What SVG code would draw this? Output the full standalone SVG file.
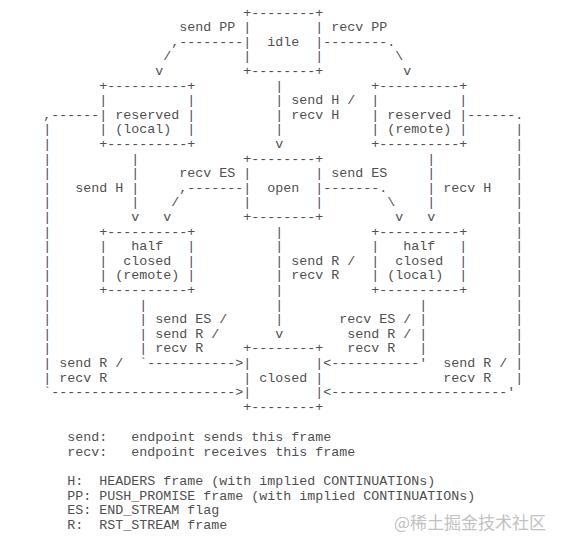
<svg xmlns="http://www.w3.org/2000/svg" width="561" height="544" viewBox="0 0 561 544" xml:space="preserve">
<style>
text{font-family:"Liberation Mono","DejaVu Sans Mono",monospace;font-size:13.33px;fill:#505050;white-space:pre}
.wm{font-family:"Noto Sans CJK SC","Noto Sans",sans-serif;font-size:17px;fill:#c2c2c2}
</style>
<rect width="561" height="544" fill="#ffffff"/>
<g transform="translate(-12.7,16.5)">
<g id="idle">
<text x="256" y="0">+--------+</text>
<text x="256" y="14.6">|        |</text>
<text x="256" y="29.2">|  idle  |</text>
<text x="256" y="43.8">|        |</text>
<text x="256" y="58.4">+--------+</text>
</g>
<g id="reserved-local">
<text x="112" y="73">+----------+</text>
<text x="112" y="87.6">|          |</text>
<text x="112" y="102.2">| reserved |</text>
<text x="112" y="116.8">| (local)  |</text>
<text x="112" y="131.4">+----------+</text>
</g>
<g id="reserved-remote">
<text x="384" y="73">+----------+</text>
<text x="384" y="87.6">|          |</text>
<text x="384" y="102.2">| reserved |</text>
<text x="384" y="116.8">| (remote) |</text>
<text x="384" y="131.4">+----------+</text>
</g>
<g id="open">
<text x="256" y="146">+--------+</text>
<text x="256" y="160.6">|        |</text>
<text x="256" y="175.2">|  open  |</text>
<text x="256" y="189.8">|        |</text>
<text x="256" y="204.4">+--------+</text>
</g>
<g id="half-closed-remote">
<text x="112" y="219">+----------+</text>
<text x="112" y="233.6">|   half   |</text>
<text x="112" y="248.2">|  closed  |</text>
<text x="112" y="262.8">| (remote) |</text>
<text x="112" y="277.4">+----------+</text>
</g>
<g id="half-closed-local">
<text x="384" y="219">+----------+</text>
<text x="384" y="233.6">|   half   |</text>
<text x="384" y="248.2">|  closed  |</text>
<text x="384" y="262.8">| (local)  |</text>
<text x="384" y="277.4">+----------+</text>
</g>
<g id="closed">
<text x="256" y="335.8">+--------+</text>
<text x="256" y="350.4">|        |</text>
<text x="256" y="365">| closed |</text>
<text x="256" y="379.6">|        |</text>
<text x="256" y="394.2">+--------+</text>
</g>
<g id="connectors">
<text x="192" y="14.6">send PP</text><text x="344" y="14.6">recv PP</text>
<text x="184" y="29.2">,--------</text><text x="336" y="29.2">--------.</text>
<text x="176" y="43.8">/</text><text x="408" y="43.8">\</text>
<text x="168" y="58.4">v</text><text x="416" y="58.4">v</text>
<text x="288" y="73">|</text>
<text x="288" y="87.6">| send H /</text>
<text x="56" y="102.2">,------</text><text x="288" y="102.2">| recv H</text><text x="480" y="102.2">------.</text>
<text x="56" y="116.8">|</text><text x="288" y="116.8">|</text><text x="528" y="116.8">|</text>
<text x="56" y="131.4">|</text><text x="288" y="131.4">v</text><text x="528" y="131.4">|</text>
<text x="56" y="146">|</text><text x="144" y="146">|</text><text x="440" y="146">|</text><text x="528" y="146">|</text>
<text x="56" y="160.6">|</text><text x="144" y="160.6">|</text><text x="192" y="160.6">recv ES</text><text x="344" y="160.6">send ES</text><text x="440" y="160.6">|</text><text x="528" y="160.6">|</text>
<text x="56" y="175.2">|</text><text x="88" y="175.2">send H |</text><text x="192" y="175.2">,-------</text><text x="336" y="175.2">-------.</text><text x="440" y="175.2">| recv H</text><text x="528" y="175.2">|</text>
<text x="56" y="189.8">|</text><text x="144" y="189.8">|</text><text x="184" y="189.8">/</text><text x="400" y="189.8">\</text><text x="440" y="189.8">|</text><text x="528" y="189.8">|</text>
<text x="56" y="204.4">|</text><text x="144" y="204.4">v</text><text x="176" y="204.4">v</text><text x="408" y="204.4">v</text><text x="440" y="204.4">v</text><text x="528" y="204.4">|</text>
<text x="56" y="219">|</text><text x="288" y="219">|</text><text x="528" y="219">|</text>
<text x="56" y="233.6">|</text><text x="288" y="233.6">|</text><text x="528" y="233.6">|</text>
<text x="56" y="248.2">|</text><text x="288" y="248.2">| send R /</text><text x="528" y="248.2">|</text>
<text x="56" y="262.8">|</text><text x="288" y="262.8">| recv R</text><text x="528" y="262.8">|</text>
<text x="56" y="277.4">|</text><text x="288" y="277.4">|</text><text x="528" y="277.4">|</text>
<text x="56" y="292">|</text><text x="152" y="292">|</text><text x="288" y="292">|</text><text x="432" y="292">|</text><text x="528" y="292">|</text>
<text x="56" y="306.6">|</text><text x="152" y="306.6">| send ES /</text><text x="288" y="306.6">|</text><text x="352" y="306.6">recv ES / |</text><text x="528" y="306.6">|</text>
<text x="56" y="321.2">|</text><text x="152" y="321.2">| send R /</text><text x="288" y="321.2">v</text><text x="360" y="321.2">send R / |</text><text x="528" y="321.2">|</text>
<text x="56" y="335.8">|</text><text x="152" y="335.8">| recv R</text><text x="360" y="335.8">recv R   |</text><text x="528" y="335.8">|</text>
<text x="56" y="350.4">| send R /</text><text x="152" y="350.4">`-----------&gt;</text><text x="336" y="350.4">&lt;-----------'</text><text x="456" y="350.4">send R / |</text>
<text x="56" y="365">| recv R</text><text x="456" y="365">recv R   |</text>
<text x="56" y="379.6">`-----------------------&gt;</text><text x="336" y="379.6">&lt;----------------------'</text>
</g>
<g id="legend" transform="translate(0,1.5)">
<text x="80" y="423.4">send:   endpoint sends this frame</text>
<text x="80" y="438">recv:   endpoint receives this frame</text>
<text x="80" y="467.2">H:  HEADERS frame (with implied CONTINUATIONs)</text>
<text x="80" y="481.8">PP: PUSH_PROMISE frame (with implied CONTINUATIONs)</text>
<text x="80" y="496.4">ES: END_STREAM flag</text>
<text x="80" y="511">R:  RST_STREAM frame</text>
</g>
</g>
<text class="wm" x="394" y="529">@稀土掘金技术社区</text>
</svg>
